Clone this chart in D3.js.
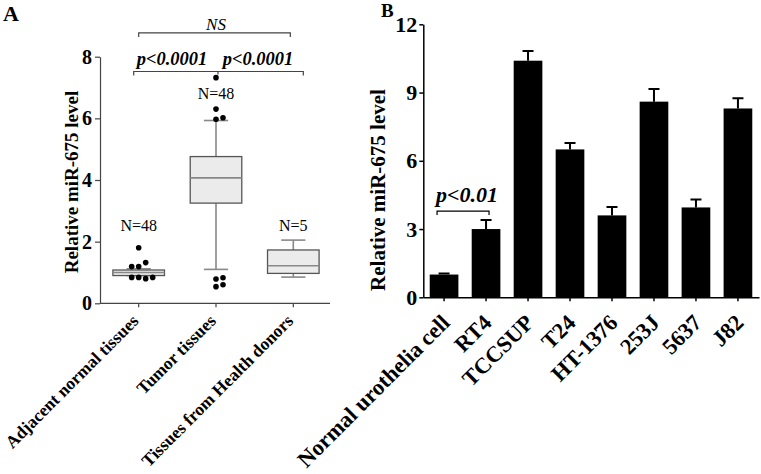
<!DOCTYPE html>
<html><head><meta charset="utf-8">
<script src="https://cdn.jsdelivr.net/npm/d3@7"></script>
<style>
body{margin:0;background:#fff;}
text{font-family:"Liberation Serif","Times New Roman",serif;}
</style></head>
<body><svg id="c" width="761" height="474"></svg>
<script>
// ---------- Panel A data ----------
const catsA = ["Adjacent normal tissues", "Tumor tissues", "Tissues from Health donors"];
const q1A = [0.90, 3.25, 0.97];
const medA = [1.00, 4.07, 1.22];
const q3A = [1.08, 4.76, 1.73];
const whiskLoA = [0.90, 1.10, 0.85];
const whiskHiA = [1.12, 5.93, 2.05];
const outliersA = [
  [1.80, 1.19, 1.32, 1.19, 0.84, 0.80, 0.84, 0.84],
  [7.32, 6.30, 5.97, 6.02, 0.79, 0.54, 0.83, 0.60],
  []
];
const nLabelsA = ["N=48", "N=48", "N=5"];
const nLabelValA = [2.35, 6.63, 2.35];
const yTicksA = [0, 2, 4, 6, 8];

// ---------- Panel B data ----------
const catsB = ["Normal urothelia cell", "RT4", "TCCSUP", "T24", "HT-1376", "253J", "5637", "J82"];
const valB = [1.00, 3.00, 10.40, 6.50, 3.60, 8.60, 3.95, 8.30];
const errB = [0.05, 0.40, 0.43, 0.28, 0.37, 0.56, 0.35, 0.45];
const yTicksB = [0, 3, 6, 9, 12];

const svg = d3.select("#c");

// ================= Panel A =================
const yA = d3.scaleLinear().domain([0, 8]).range([303.3, 56.7]);
const xA = d3.scaleBand().domain(catsA).range([100, 332]).paddingInner(0.333).paddingOuter(0.167);
const gA = svg.append("g");
const axColA = "#444";

const axYA = gA.append("g").attr("transform", "translate(100,0)")
  .call(d3.axisLeft(yA).tickValues(yTicksA).tickSize(5).tickPadding(3).tickSizeOuter(0));
axYA.selectAll("text").attr("font-size", 20).attr("font-weight", "bold").attr("fill", "#000");
axYA.selectAll("line,path").attr("stroke", axColA).attr("stroke-width", 1.2);

const axXA = gA.append("g").attr("transform", "translate(0,303.3)")
  .call(d3.axisBottom(xA).tickSize(4).tickSizeOuter(0));
axXA.select(".domain").attr("d", "M100,0H330");
axXA.selectAll("line,path").attr("stroke", axColA).attr("stroke-width", 1.2);
axXA.selectAll("text").remove();
gA.selectAll(".xla").data(catsA).join("text")
  .attr("transform", d => `translate(${xA(d) + xA.bandwidth() / 2 + 1},${322}) rotate(-45)`)
  .attr("text-anchor", "end").attr("font-size", 17.5).attr("font-weight", "bold").text(d => d);

gA.append("text").attr("transform", "translate(78,182) rotate(-90)").attr("text-anchor", "middle")
  .attr("font-size", 19).attr("font-weight", "bold").text("Relative miR-675 level");
gA.append("text").attr("x", 3).attr("y", 21).attr("font-size", 22).attr("font-weight", "bold").text("A");

const bw = xA.bandwidth();
catsA.forEach((c, i) => {
  const cx = xA(c) + bw / 2;
  const cap = bw * 0.47;
  gA.append("line").attr("x1", cx).attr("x2", cx).attr("y1", yA(q3A[i])).attr("y2", yA(whiskHiA[i]))
    .attr("stroke", "#888").attr("stroke-width", 1.6);
  gA.append("line").attr("x1", cx).attr("x2", cx).attr("y1", yA(q1A[i])).attr("y2", yA(whiskLoA[i]))
    .attr("stroke", "#888").attr("stroke-width", 1.6);
  gA.append("line").attr("x1", cx - cap / 2).attr("x2", cx + cap / 2).attr("y1", yA(whiskHiA[i])).attr("y2", yA(whiskHiA[i]))
    .attr("stroke", "#888").attr("stroke-width", 1.6);
  gA.append("line").attr("x1", cx - cap / 2).attr("x2", cx + cap / 2).attr("y1", yA(whiskLoA[i])).attr("y2", yA(whiskLoA[i]))
    .attr("stroke", "#888").attr("stroke-width", 1.6);
  gA.append("rect").attr("x", xA(c)).attr("width", bw).attr("y", yA(q3A[i])).attr("height", yA(q1A[i]) - yA(q3A[i]))
    .attr("fill", "#ebebeb").attr("stroke", "#555").attr("stroke-width", 1.3);
  gA.append("line").attr("x1", xA(c)).attr("x2", xA(c) + bw).attr("y1", yA(medA[i])).attr("y2", yA(medA[i]))
    .attr("stroke", "#888").attr("stroke-width", 1.6);
  const placed = [];
  const offs = [0, 7, -7, 14, -14, 21, -21];
  outliersA[i].forEach(v => {
    const py = yA(v);
    let ox = 0;
    for (const o of offs) {
      if (placed.every(p => Math.hypot(p[0] - o, p[1] - py) > 6.5)) { ox = o; break; }
    }
    placed.push([ox, py]);
    gA.append("circle").attr("cx", cx + ox).attr("cy", py).attr("r", 2.8).attr("fill", "#000");
  });
  gA.append("text").attr("x", cx).attr("y", yA(nLabelValA[i])).attr("text-anchor", "middle")
    .attr("font-size", 16).text(nLabelsA[i]);
});

// brackets A
const cA = catsA.map(c => xA(c) + bw / 2);
const yNS = yA(8.77), yP = yA(7.52);
gA.append("path").attr("d", `M${cA[0]},${yNS + 4}V${yNS}H${cA[2] - 3}V${yNS + 4}`)
  .attr("fill", "none").attr("stroke", "#444").attr("stroke-width", 1.2);
gA.append("text").attr("x", (cA[0] + cA[2]) / 2).attr("y", yNS - 3).attr("text-anchor", "middle")
  .attr("font-size", 17).attr("font-style", "italic").text("NS");
gA.append("path").attr("d", `M${cA[0] - 5},${yP + 4}V${yP}H${cA[2] + 10}V${yP + 4}M${cA[1] + 2},${yP}V${yP + 3}`)
  .attr("fill", "none").attr("stroke", "#444").attr("stroke-width", 1.2);
gA.append("text").attr("x", 172).attr("y", yP - 6).attr("text-anchor", "middle")
  .attr("font-size", 18.5).attr("font-style", "italic").attr("font-weight", "bold").text("p<0.0001");
gA.append("text").attr("x", 258).attr("y", yP - 6).attr("text-anchor", "middle")
  .attr("font-size", 18.5).attr("font-style", "italic").attr("font-weight", "bold").text("p<0.0001");

// ================= Panel B =================
const yB = d3.scaleLinear().domain([0, 12]).range([297.3, 24.3]);
const xB = d3.scaleBand().domain(catsB).range([423, 759]).paddingInner(0.317).paddingOuter(0.16);
const gB = svg.append("g");

gB.selectAll(".bar").data(catsB).join("rect")
  .attr("x", d => xB(d)).attr("width", xB.bandwidth())
  .attr("y", (d, i) => yB(valB[i])).attr("height", (d, i) => yB(0) - yB(valB[i])).attr("fill", "#000");
gB.selectAll(".eb").data(catsB).join("path")
  .attr("d", (d, i) => {
    const cx = xB(d) + xB.bandwidth() / 2;
    return `M${cx},${yB(valB[i])}V${yB(valB[i] + errB[i])}M${cx - 5.5},${yB(valB[i] + errB[i])}H${cx + 5.5}`;
  })
  .attr("fill", "none").attr("stroke", "#000").attr("stroke-width", 2);

const axYB = gB.append("g").attr("transform", "translate(423.3,0)")
  .call(d3.axisLeft(yB).tickValues(yTicksB).tickSize(4).tickPadding(2).tickSizeOuter(0));
axYB.selectAll("text").attr("font-size", 22).attr("font-weight", "bold").attr("fill", "#000");
axYB.selectAll("line,path").attr("stroke", "#000").attr("stroke-width", 1.5);

const axXB = gB.append("g").attr("transform", "translate(0,297.3)")
  .call(d3.axisBottom(xB).tickSize(4).tickSizeOuter(0));
axXB.selectAll("line,path").attr("stroke", "#000").attr("stroke-width", 1.5);
axXB.selectAll("text").remove();
gB.selectAll(".xlb").data(catsB).join("text")
  .attr("transform", d => `translate(${xB(d) + xB.bandwidth() / 2 + 7},${324}) rotate(-45)`)
  .attr("text-anchor", "end").attr("font-size", 22.5).attr("font-weight", "bold").text(d => d);

gB.append("text").attr("transform", "translate(385,190) rotate(-90)").attr("text-anchor", "middle")
  .attr("font-size", 21).attr("font-weight", "bold").text("Relative miR-675 level");
gB.append("text").attr("x", 381).attr("y", 17).attr("font-size", 19).attr("font-weight", "bold").text("B");

const cB0 = xB(catsB[0]) + xB.bandwidth() / 2, cB1 = xB(catsB[1]) + xB.bandwidth() / 2;
const yBr = yB(3.79);
gB.append("path").attr("d", `M${cB0 - 7},${yBr + 4}V${yBr}H${cB1 + 3}V${yBr + 4}`)
  .attr("fill", "none").attr("stroke", "#000").attr("stroke-width", 1.2);
gB.append("text").attr("x", (cB0 + cB1) / 2 + 2).attr("y", yBr - 9).attr("text-anchor", "middle")
  .attr("font-size", 22).attr("font-style", "italic").attr("font-weight", "bold").text("p<0.01");
</script></body></html>
